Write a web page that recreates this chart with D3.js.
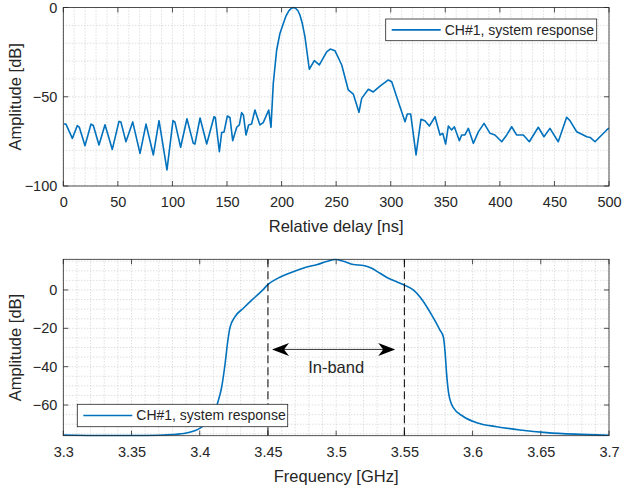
<!DOCTYPE html>
<html>
<head>
<meta charset="utf-8">
<script src="https://cdn.jsdelivr.net/npm/d3@7"></script>
<style>
  html, body { margin: 0; padding: 0; background: #fff; }
  body { width: 623px; height: 489px; overflow: hidden; }
  text { font-family: "Liberation Sans", Arial, Helvetica, sans-serif; fill: #262626; }
</style>
</head>
<body>
<script>
// ---- data ----
let delayNs = [0.6, 2.4, 8.3, 12.8, 14.6, 19.9, 25.4, 27.5, 32.7, 38.2, 44.9, 51, 52.8, 57.4, 63.6, 70.3,
    75.8, 82.5, 87.7, 95, 100.5, 102.3, 107.5, 113.3, 119.1, 120.6, 125.3, 131.4, 138.1, 139.3, 143,
    145.1, 147.3, 150.3, 152.7, 155.2, 158.9, 161.3, 163.4, 165, 167.4, 169.8, 172.5, 175.6, 177.1,
    180.2, 183.2, 188.2, 190.3, 192.4, 195.5, 198.5, 201.6, 204, 206.5, 208.8, 210.7, 212.8, 215, 216.8,
    219, 221.4, 225.4, 230, 234.6,
    241.3, 244.6, 248.9, 255.1, 261.1, 265.7, 270.9, 273.4, 279.5, 284, 290.2, 297.8, 300.9, 308.5,
    313.1, 315.2, 318.3, 323.2, 327.7, 331.3, 335.4, 340.6, 345.2, 347.7, 350.3, 352.8, 355.8, 358.3,
    362.9, 365, 368, 371.1, 375.7, 380.3, 385.5, 391, 395.5, 401.7, 406.3, 410.8, 415.3, 421.5, 427,
    435.2, 440.4, 445.9, 453.5, 461.2, 464.2, 470.4, 476.5, 479.6, 482.7, 487.2, 497.9, 500];
let delayDb = [-65.3, -65.3, -73.3, -66.2, -67, -77.4, -65.3, -66.1, -77, -65.7, -79.5, -63.8, -64.2, -75.2, -64.1, -81.7,
    -65.3, -82.6, -63.4, -91, -63.4, -64.2, -78.3, -62.3, -76.1, -76.5, -61.9, -76.5, -61.2, -61.6, -80.8,
    -70.1, -69.7, -60.8, -61.6, -74.6, -67.1, -65.8, -58.9, -60.2, -71.4, -65.8, -65.3, -57.4, -60.2,
    -65.8, -64.5, -57.4, -67.1, -42.5, -23.8, -14.5, -8.9, -4.8, -2, -0.5, 0, -0.4, -1.8, -4.2,
    -9, -16.3, -34.6, -29.8, -32.2,
    -24.8, -23.3, -24.2, -32.2, -46.2, -48.5, -58.7, -50.9, -45.8, -47.3, -44, -40.6, -41.6, -55.6,
    -64, -59.7, -59.7, -82.6, -62.6, -63.4, -66.4, -61.2, -71.4, -70.5, -76.5, -66.4, -68.6, -66.8,
    -74.6, -71.4, -71.4, -67.7, -76.1, -69.7, -64.9, -70.5, -71.4, -75.2, -71.4, -66.8, -71.4, -71.4, -75.2,
    -67.1, -72.4, -67.7, -75.2, -61.5, -63.4, -69.6, -71.4, -72.4, -72.8, -75.2, -68.6, -67.5];

let freqGHz = [3.3, 3.33, 3.36, 3.38, 3.39, 3.4, 3.405, 3.41, 3.4135, 3.416, 3.4185, 3.4205, 3.4222, 3.4258,
    3.432, 3.4393, 3.4455, 3.4503, 3.4564, 3.4637, 3.471, 3.4784, 3.4857, 3.493, 3.4995, 3.5053, 3.5126,
    3.52, 3.5261, 3.5322, 3.5383, 3.5444, 3.5505, 3.5565, 3.5639, 3.57, 3.5761, 3.5786, 3.5798, 3.581,
    3.5825, 3.586, 3.5932, 3.603, 3.6177, 3.6348, 3.6543, 3.6788, 3.7];
let freqDb = [-75.6, -75.9, -75.9, -75.4, -74.6, -72.2, -69.5, -65, -58, -51, -39, -27, -19.5, -14,
    -9.5, -4.5, -0.5, 3, 5.8, 8.2, 10.2, 12, 13.2, 14.8, 15.9, 15, 13.3,
    12.8, 11.3, 8.7, 6.1, 4.3, 2.4, 0, -6, -13, -20.9, -24.5, -32, -44,
    -54, -61.5, -66, -69.2, -71.3, -73, -74.4, -75.3, -75.8];

let delayTicks = [0, 50, 100, 150, 200, 250, 300, 350, 400, 450, 500];
let delayDbTicks = [-100, -50, 0];
let freqTicks = [3.3, 3.35, 3.4, 3.45, 3.5, 3.55, 3.6, 3.65, 3.7];
let freqDbTicks = [-60, -40, -20, 0];
let bandEdges = [3.45, 3.55];
let seriesName = "CH#1, system response";

// ---- layout ----
let W = 623, H = 489;
let blue = "#0072BD", axisColor = "#262626";

let svg = d3.select("body")
    .append("svg")
    .attr("width", W)
    .attr("height", H);

function drawPanel(o) {
    let x = d3.scaleLinear().domain(o.xDomain).range([o.left, o.right]);
    let y = d3.scaleLinear().domain(o.yDomain).range([o.bottom, o.top]);
    let g = svg.append("g");

    // dotted grid (minor + major)
    let grid = g.append("g")
        .attr("stroke", "#c4c4c4")
        .attr("stroke-width", 0.8)
        .attr("stroke-dasharray", "1,2");
    grid.selectAll(".gx").data(o.xMinor).join("line")
        .attr("class", "gx")
        .attr("x1", d => x(d)).attr("x2", d => x(d))
        .attr("y1", o.top).attr("y2", o.bottom);
    grid.selectAll(".gy").data(o.yMinor).join("line")
        .attr("class", "gy")
        .attr("x1", o.left).attr("x2", o.right)
        .attr("y1", d => y(d)).attr("y2", d => y(d));

    // inward ticks on all sides
    let tk = 5;
    let ticks = g.append("g").attr("stroke", axisColor).attr("stroke-width", 0.8);
    o.xTicks.forEach(d => {
        ticks.append("line").attr("x1", x(d)).attr("x2", x(d)).attr("y1", o.bottom).attr("y2", o.bottom - tk);
        ticks.append("line").attr("x1", x(d)).attr("x2", x(d)).attr("y1", o.top).attr("y2", o.top + tk);
    });
    o.yTicks.forEach(d => {
        ticks.append("line").attr("y1", y(d)).attr("y2", y(d)).attr("x1", o.left).attr("x2", o.left + tk);
        ticks.append("line").attr("y1", y(d)).attr("y2", y(d)).attr("x1", o.right).attr("x2", o.right - tk);
    });

    // tick labels through d3 axes
    g.append("g")
        .attr("transform", `translate(0,${o.bottom})`)
        .call(d3.axisBottom(x).tickValues(o.xTicks).tickSize(0).tickPadding(11).tickFormat(d3.format("~g")))
        .call(a => a.select(".domain").remove())
        .selectAll("text")
        .attr("font-size", 14.5)
        .attr("font-family", null)
        .attr("fill", axisColor);
    g.append("g")
        .attr("transform", `translate(${o.left},0)`)
        .call(d3.axisLeft(y).tickValues(o.yTicks).tickSize(0).tickPadding(6).tickFormat(d3.format("~g")))
        .call(a => a.select(".domain").remove())
        .selectAll("text")
        .attr("font-size", 14.5)
        .attr("font-family", null)
        .attr("fill", axisColor);

    // axis labels
    g.append("text")
        .attr("x", (o.left + o.right) / 2)
        .attr("y", o.bottom + 46)
        .attr("text-anchor", "middle")
        .attr("font-size", 16.5)
        .text(o.xLabel);
    g.append("text")
        .attr("transform", `translate(21,${(o.top + o.bottom) / 2}) rotate(-90)`)
        .attr("text-anchor", "middle")
        .attr("font-size", 16.5)
        .text(o.yLabel);

    // clipped data line
    let clipId = "clip" + o.id;
    g.append("clipPath").attr("id", clipId)
        .append("rect")
        .attr("x", o.left).attr("y", o.top - 1)
        .attr("width", o.right - o.left).attr("height", o.bottom - o.top + 2);
    g.append("path")
        .datum(d3.zip(o.xs, o.ys))
        .attr("clip-path", `url(#${clipId})`)
        .attr("fill", "none")
        .attr("stroke", blue)
        .attr("stroke-width", 1.6)
        .attr("stroke-linejoin", "round")
        .attr("d", d3.line().curve(o.curve).x(d => x(d[0])).y(d => y(d[1])));

    // box
    g.append("rect")
        .attr("x", o.left).attr("y", o.top)
        .attr("width", o.right - o.left).attr("height", o.bottom - o.top)
        .attr("fill", "none")
        .attr("stroke", axisColor)
        .attr("stroke-width", 0.8);

    return {x, y, g};
}

function drawLegend(x0, y0, w, h) {
    let lg = svg.append("g").attr("transform", `translate(${x0},${y0})`);
    lg.append("rect")
        .attr("width", w).attr("height", h)
        .attr("fill", "#fff")
        .attr("stroke", axisColor)
        .attr("stroke-width", 0.8);
    lg.append("line")
        .attr("x1", 6).attr("x2", 55)
        .attr("y1", h / 2).attr("y2", h / 2)
        .attr("stroke", blue).attr("stroke-width", 1.6);
    lg.append("text")
        .attr("x", 59).attr("y", h / 2 + 5)
        .attr("font-size", 14)
        .text(seriesName);
}

let delayPanel = drawPanel({
    id: 1,
    left: 63.3, right: 609, top: 7.5, bottom: 186,
    xDomain: [0, 500], yDomain: [-100, 0],
    xTicks: delayTicks, yTicks: delayDbTicks,
    xMinor: d3.range(0, 501, 10), yMinor: d3.range(-100, 1, 10),
    xs: delayNs, ys: delayDb, curve: d3.curveLinear,
    xLabel: "Relative delay [ns]", yLabel: "Amplitude [dB]"
});
drawLegend(385.7, 19, 211, 21.7);

let freqPanel = drawPanel({
    id: 2,
    left: 63.3, right: 609, top: 259.3, bottom: 435.7,
    xDomain: [3.3, 3.7], yDomain: [-76, 16],
    xTicks: freqTicks, yTicks: freqDbTicks,
    xMinor: d3.range(0, 41).map(i => 3.3 + i * 0.01), yMinor: d3.range(-75, 16, 5),
    xs: freqGHz, ys: freqDb, curve: d3.curveMonotoneX,
    xLabel: "Frequency [GHz]", yLabel: "Amplitude [dB]"
});

// band edges
freqPanel.g.append("g").selectAll("line").data(bandEdges).join("line")
    .attr("x1", d => freqPanel.x(d)).attr("x2", d => freqPanel.x(d))
    .attr("y1", 259.3).attr("y2", 435.7)
    .attr("stroke", "#000")
    .attr("stroke-width", 1)
    .attr("stroke-dasharray", "8,4");

// in-band arrow
let ay = freqPanel.y(-31);
let ax1 = freqPanel.x(3.453), ax2 = freqPanel.x(3.5433);
freqPanel.g.append("line")
    .attr("x1", ax1 + 8).attr("x2", ax2 - 8)
    .attr("y1", ay).attr("y2", ay)
    .attr("stroke", "#333").attr("stroke-width", 1);
[[ax1, 1], [ax2, -1]].forEach(([tx, s]) => {
    freqPanel.g.append("path")
        .attr("d", `M${tx},${ay} L${tx + s * 17},${ay - 6.5} L${tx + s * 12},${ay} L${tx + s * 17},${ay + 6.5} Z`)
        .attr("fill", "#000");
});
freqPanel.g.append("text")
    .attr("x", freqPanel.x(3.5))
    .attr("y", freqPanel.y(-40) + 6)
    .attr("text-anchor", "middle")
    .attr("font-size", 16.5)
    .attr("fill", "#000")
    .text("In-band");

drawLegend(77.3, 404.3, 210.4, 22.4);
</script>
</body>
</html>
